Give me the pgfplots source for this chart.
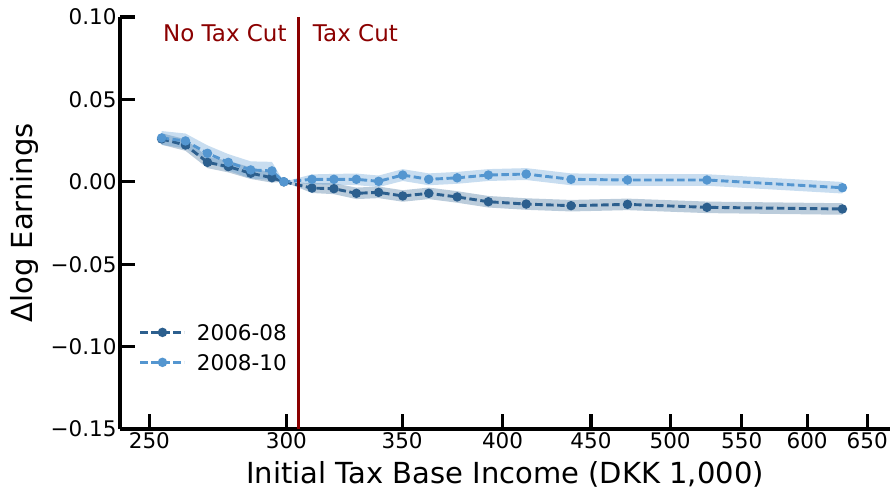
\documentclass[border=0pt]{standalone}
\usepackage{fontspec}
\setmainfont{DejaVu Sans}
\usepackage{pgfplots}
\pgfplotsset{compat=1.18}
\usepackage{pgfplotstable}
\usepgfplotslibrary{fillbetween}

\definecolor{darkline}{RGB}{44,95,142}
\definecolor{lightline}{RGB}{84,150,208}
\definecolor{taxred}{RGB}{139,0,0}

% x: initial tax base income (DKK 1,000); d/l: change in log earnings for
% 2006-08 and 2008-10; dci/lci: half-width of the confidence band
\pgfplotstableread{
x      d        dci     l        lci
254.1  0.0260   0.0035  0.0266   0.0042
262.3  0.0223   0.0035  0.0248   0.0045
270.1  0.0118   0.0035  0.0173   0.0048
277.7  0.0092   0.0035  0.0118   0.0050
286.1  0.0052   0.0035  0.0072   0.0052
294.3  0.0025   0.0030  0.0066   0.0055
299.0  0.0000   0.0000  0.0000   0.0000
310.4  -0.0038  0.0030  0.0015   0.0030
319.6  -0.0042  0.0033  0.0015   0.0033
329.3  -0.0070  0.0035  0.0015   0.0035
339.2  -0.0064  0.0035  0.0003   0.0035
350.3  -0.0086  0.0035  0.0041   0.0036
362.6  -0.0070  0.0035  0.0015   0.0036
376.6  -0.0092  0.0035  0.0024   0.0036
392.6  -0.0121  0.0035  0.0041   0.0036
412.8  -0.0135  0.0035  0.0047   0.0036
438.2  -0.0145  0.0035  0.0015   0.0036
472.4  -0.0137  0.0035  0.0011   0.0035
525.1  -0.0155  0.0035  0.0011   0.0035
628.9  -0.0165  0.0035  -0.0036  0.0035
}\earnings

\begin{document}
\begin{tikzpicture}
\begin{axis}[
  name=ax,
  scale only axis,
  width=770bp, height=412bp,
  xmode=log,
  xmin=240.4, xmax=670,
  ymin=-0.15, ymax=0.10,
  every axis/.append style={line width=3.4bp},
  axis lines*=left,
  axis line style={line width=3.4bp, black},
  every tick/.append style={line width=3.2bp, black},
  major tick style={line width=3.2bp, black},
  major tick length=15bp,
  tick align=inside,
  xminorticks=false, yminorticks=false,
  xtick={250,300,350,400,450,500,550,600,650},
  xticklabels={250,300,350,400,450,500,550,600,650},
  ytick={-0.15,-0.10,-0.05,0,0.05,0.10},
  yticklabels={−0.15,−0.10,−0.05,0.00,0.05,0.10},
  tick label style={font=\fontsize{21.5bp}{25bp}\selectfont},
  xlabel={Initial Tax Base Income (DKK 1,000)},
  ylabel={Δlog Earnings},
  label style={font=\fontsize{29bp}{34bp}\selectfont},
  xlabel style={at={(axis description cs:0.5,0)}, anchor=base, yshift=-54bp, inner sep=0pt},
  ylabel style={at={(axis description cs:-0.113,0.5)}, anchor=base, inner sep=0pt},
  legend style={draw=none, fill=none, at={(axis description cs:0.0225,0.258)},
    anchor=north west, row sep=14bp, inner sep=0pt,
    nodes={inner sep=0pt, text depth=0pt},
    font=\fontsize{21.5bp}{25bp}\selectfont},
  legend cell align=left,
  legend image code/.code={
    \draw[mark repeat=2, mark phase=2]
      plot coordinates {(0bp,0bp) (22bp,0bp) (44bp,0bp)}
      (55bp,0bp);},
]
% confidence bands
\addplot[name path=dhi, draw=none, forget plot]
  table[x=x, y expr=\thisrow{d}+\thisrow{dci}] {\earnings};
\addplot[name path=dlo, draw=none, forget plot]
  table[x=x, y expr=\thisrow{d}-\thisrow{dci}] {\earnings};
\addplot[darkline, fill opacity=0.32, draw=none, forget plot]
  fill between[of=dhi and dlo];
\addplot[name path=lhi, draw=none, forget plot]
  table[x=x, y expr=\thisrow{l}+\thisrow{lci}] {\earnings};
\addplot[name path=llo, draw=none, forget plot]
  table[x=x, y expr=\thisrow{l}-\thisrow{lci}] {\earnings};
\addplot[lightline, fill opacity=0.32, draw=none, forget plot]
  fill between[of=lhi and llo];

% point estimates
\addplot[darkline, line width=2.9bp, dash pattern=on 7.5bp off 3.5bp,
  mark=*, mark size=3.2bp, mark options={solid, draw=darkline, fill=darkline}]
  table[x=x, y=d] {\earnings};
\addlegendentry{2006-08}
\addplot[lightline, line width=2.9bp, dash pattern=on 7.5bp off 3.5bp,
  mark=*, mark size=3.2bp, mark options={solid, draw=lightline, fill=lightline}]
  table[x=x, y=l] {\earnings};
\addlegendentry{2008-10}

% tax cut threshold
\addplot[taxred, line width=2.8bp, forget plot]
  coordinates {(305,-0.15) (305,0.10)};
\node[taxred, anchor=base east, inner sep=0pt, xshift=-12bp,
  font=\fontsize{23bp}{27bp}\selectfont] at (axis cs:305,0.0849) {No Tax Cut};
\node[taxred, anchor=base west, inner sep=0pt, xshift=14bp,
  font=\fontsize{23bp}{27bp}\selectfont] at (axis cs:305,0.0849) {Tax Cut};
\end{axis}
\pgfresetboundingbox
\path ([shift={(-120bp,-60bp)}]ax.south west) rectangle ([shift={(3bp,17bp)}]ax.north east);
\end{tikzpicture}
\end{document}
